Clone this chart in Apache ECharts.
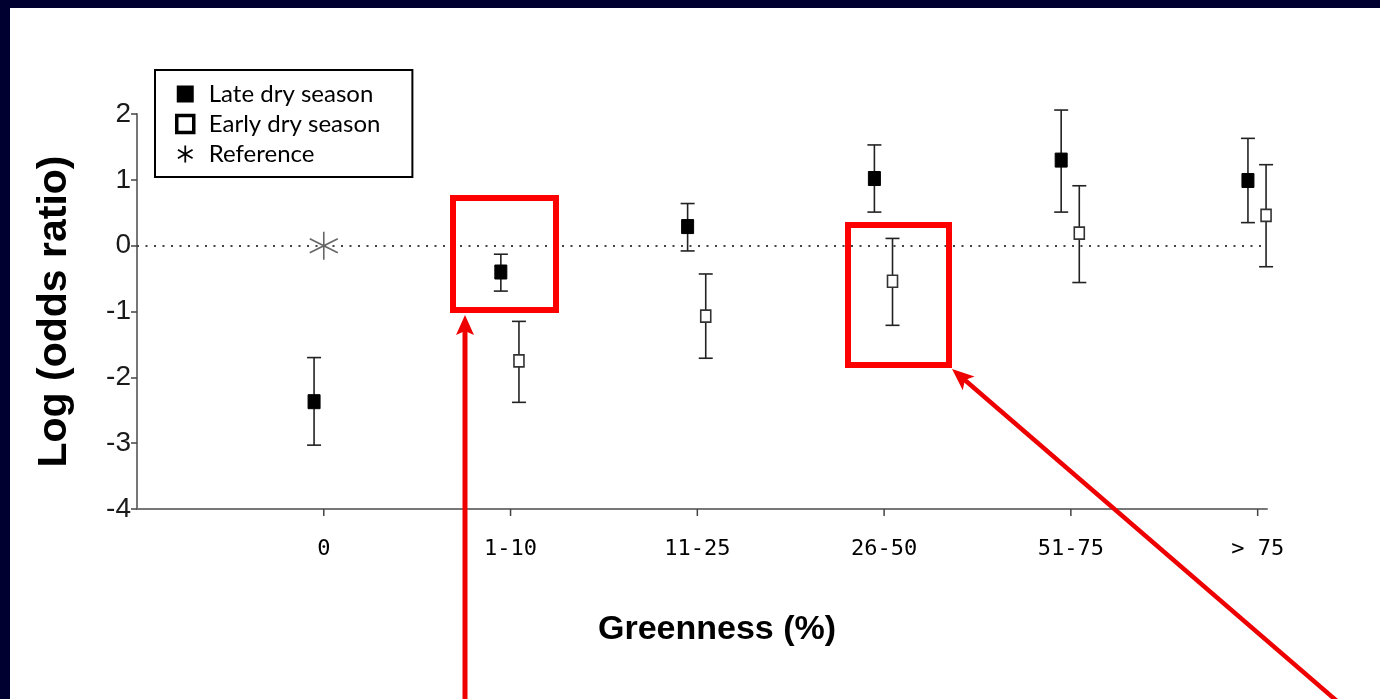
<!DOCTYPE html>
<html>
<head>
<meta charset="utf-8">
<script src="https://cdn.jsdelivr.net/npm/echarts@6/dist/echarts.min.js"></script>
<style>
html,body{margin:0;padding:0;background:#000030;width:1380px;height:699px;overflow:hidden;}
#chart{position:absolute;left:10px;top:8px;width:1370px;height:691px;background:#fff;}
</style>
</head>
<body>
<div id="chart"></div>
<script>
// ---- data ----
var categories = ['0', '1-10', '11-25', '26-50', '51-75', '> 75'];
var categoryPos = [0, 1, 2, 3, 4, 5];
var yTicks = [-4, -3, -2, -1, 0, 1, 2];
var lateMean  = [-2.37, -0.40, 0.29, 1.02, 1.30, 0.99];
var lateLow   = [-3.03, -0.69, -0.08, 0.51, 0.51, 0.35];
var lateHigh  = [-1.70, -0.13, 0.64, 1.53, 2.06, 1.63];
var earlyMean = [null, -1.75, -1.07, -0.54, 0.19, 0.46];
var earlyLow  = [null, -2.38, -1.71, -1.21, -0.56, -0.32];
var earlyHigh = [null, -1.15, -0.43, 0.11, 0.91, 1.23];
var referenceCat = 0;
var referenceVal = 0;

var LATE_OFF = -0.052, EARLY_OFF = 0.045;

function buildSeriesData(mean, low, high, off) {
  var out = [];
  for (var i = 0; i < categories.length; i++) {
    if (mean[i] == null) continue;
    out.push([categoryPos[i] + off, mean[i], low[i], high[i]]);
  }
  return out;
}

function errRender(filled) {
  return function (params, api) {
    var x = api.value(0);
    var pm = api.coord([x, api.value(1)]);
    var pl = api.coord([x, api.value(2)]);
    var ph = api.coord([x, api.value(3)]);
    var cap = 7;
    var lineStyle = {stroke: '#222', lineWidth: 1.6};
    var w = filled ? 12 : 10, h = filled ? 14 : 12;
    return {
      type: 'group',
      children: [
        {type: 'line', shape: {x1: pm[0], y1: pl[1], x2: pm[0], y2: ph[1]}, style: lineStyle},
        {type: 'line', shape: {x1: pm[0] - cap, y1: pl[1], x2: pm[0] + cap, y2: pl[1]}, style: lineStyle},
        {type: 'line', shape: {x1: pm[0] - cap, y1: ph[1], x2: pm[0] + cap, y2: ph[1]}, style: lineStyle},
        {type: 'rect', shape: {x: pm[0] - w / 2, y: pm[1] - h / 2, width: w, height: h},
          style: filled ? {fill: '#000', stroke: '#000', lineWidth: 1}
                        : {fill: '#fff', stroke: '#333', lineWidth: 1.6}}
      ]
    };
  };
}

function tickRender(params, api) {
  var p = api.coord([api.value(0), yTicks[0]]);
  return {type: 'line', shape: {x1: p[0], y1: p[1], x2: p[0], y2: p[1] + 7},
    style: {stroke: '#444', lineWidth: 1.5}};
}

var asterisk = 'path://M50,0L50,100M7,25L93,75M7,75L93,25';

var chart = echarts.init(document.getElementById('chart'), null, {renderer: 'canvas'});

// red annotation geometry (chart-div pixels)
var tip2 = [942, 361], u = [0.757, 0.653], pp = [-0.653, 0.757];
function pt(base, a, b) { return [base[0] + u[0] * a + pp[0] * b, base[1] + u[1] * a + pp[1] * b]; }

var option = {
  animation: false,
  backgroundColor: '#fff',
  grid: {left: 127, top: 106, width: 1130, height: 395, containLabel: false},
  xAxis: {
    type: 'value', min: -1, max: 5.05, interval: 1,
    axisLine: {show: true, onZero: false, lineStyle: {color: '#777', width: 2}},
    axisTick: {show: false},
    axisLabel: {
      customValues: categoryPos,
      formatter: function (v) { var i = categoryPos.indexOf(Math.round(v)); return (i >= 0 && Math.abs(v - categoryPos[i]) < 1e-6) ? categories[i] : ''; },
      fontFamily: 'DejaVu Sans Mono', fontSize: 22, color: '#000', margin: 29
    },
    splitLine: {show: false}
  },
  yAxis: {
    type: 'value', min: yTicks[0], max: yTicks[yTicks.length - 1], interval: 1,
    name: 'Log (odds ratio)', nameLocation: 'middle', nameGap: 62, nameRotate: 90,
    nameTextStyle: {fontFamily: 'Liberation Sans', fontWeight: 'bold', fontSize: 41, color: '#000'},
    axisLine: {show: true, onZero: false, lineStyle: {color: '#777', width: 2}},
    axisTick: {show: true, length: 6, lineStyle: {color: '#444', width: 1.5}},
    axisLabel: {fontFamily: 'Liberation Sans', fontSize: 28, color: '#1a1a1a', margin: 6},
    splitLine: {show: false}
  },
  legend: {
    orient: 'vertical', left: 145, top: 62,
    borderColor: '#000', borderWidth: 2, padding: [12, 32, 11, 20],
    itemWidth: 17, itemHeight: 17, itemGap: 6,
    textStyle: {fontFamily: 'Lato', fontSize: 24, color: '#000', lineHeight: 24, padding: [0, 0, 0, 10]},
    data: [
      {name: 'Late dry season', icon: 'rect', itemStyle: {color: '#000', borderWidth: 0}},
      {name: 'Early dry season', icon: 'rect', itemStyle: {color: '#fff', borderColor: '#000', borderWidth: 3.5}},
      {name: 'Reference', icon: asterisk, itemStyle: {color: 'transparent', borderColor: '#000', borderWidth: 1.8}}
    ]
  },
  series: [
    {
      name: 'xTicks', type: 'custom', renderItem: tickRender, silent: true, clip: false,
      encode: {x: 0, y: 1},
      data: categoryPos.map(function (c) { return [c, yTicks[0]]; }), z: 3
    },
    {
      name: 'Late dry season', type: 'custom', renderItem: errRender(true),
      itemStyle: {color: '#000'},
      encode: {x: 0, y: [1, 2, 3]},
      data: buildSeriesData(lateMean, lateLow, lateHigh, LATE_OFF), z: 5
    },
    {
      name: 'Early dry season', type: 'custom', renderItem: errRender(false),
      itemStyle: {color: '#fff', borderColor: '#000'},
      encode: {x: 0, y: [1, 2, 3]},
      data: buildSeriesData(earlyMean, earlyLow, earlyHigh, EARLY_OFF), z: 5
    },
    {
      name: 'Reference', type: 'scatter', symbol: asterisk, symbolSize: 28,
      itemStyle: {color: 'transparent', borderColor: '#666', borderWidth: 1.6, opacity: 1},
      data: [[referenceCat, referenceVal]], z: 6,
      markLine: {
        silent: true, symbol: 'none', label: {show: false},
        lineStyle: {type: [2, 6.5], color: '#444', width: 1.8},
        data: [{yAxis: 0}]
      }
    }
  ],
  graphic: [
    {type: 'text', left: 588, top: 605, style: {text: 'Greenness (%)', fontFamily: 'Liberation Sans', fontWeight: 'bold', fontSize: 34, fill: '#000'}},
    {type: 'rect', shape: {x: 443, y: 190, width: 103, height: 112}, style: {fill: 'none', stroke: '#ff0000', lineWidth: 6}, z: 100},
    {type: 'rect', shape: {x: 838, y: 217, width: 101, height: 140}, style: {fill: 'none', stroke: '#ff0000', lineWidth: 6}, z: 100},
    {type: 'line', shape: {x1: 455, y1: 700, x2: 455, y2: 322}, style: {stroke: '#ee0000', lineWidth: 5}, z: 100},
    {type: 'polygon', shape: {points: [[455, 307], [446, 327], [455, 323], [464, 327]]}, style: {fill: '#ee0000'}, z: 100},
    {type: 'line', shape: {x1: pt(tip2, 15, 0)[0], y1: pt(tip2, 15, 0)[1], x2: 1335, y2: 700}, style: {stroke: '#ee0000', lineWidth: 4.5}, z: 100},
    {type: 'polygon', shape: {points: [tip2, pt(tip2, 22, -9), pt(tip2, 17, 0), pt(tip2, 22, 9)]}, style: {fill: '#ee0000'}, z: 100}
  ]
};
chart.setOption(option);
</script>
</body>
</html>
